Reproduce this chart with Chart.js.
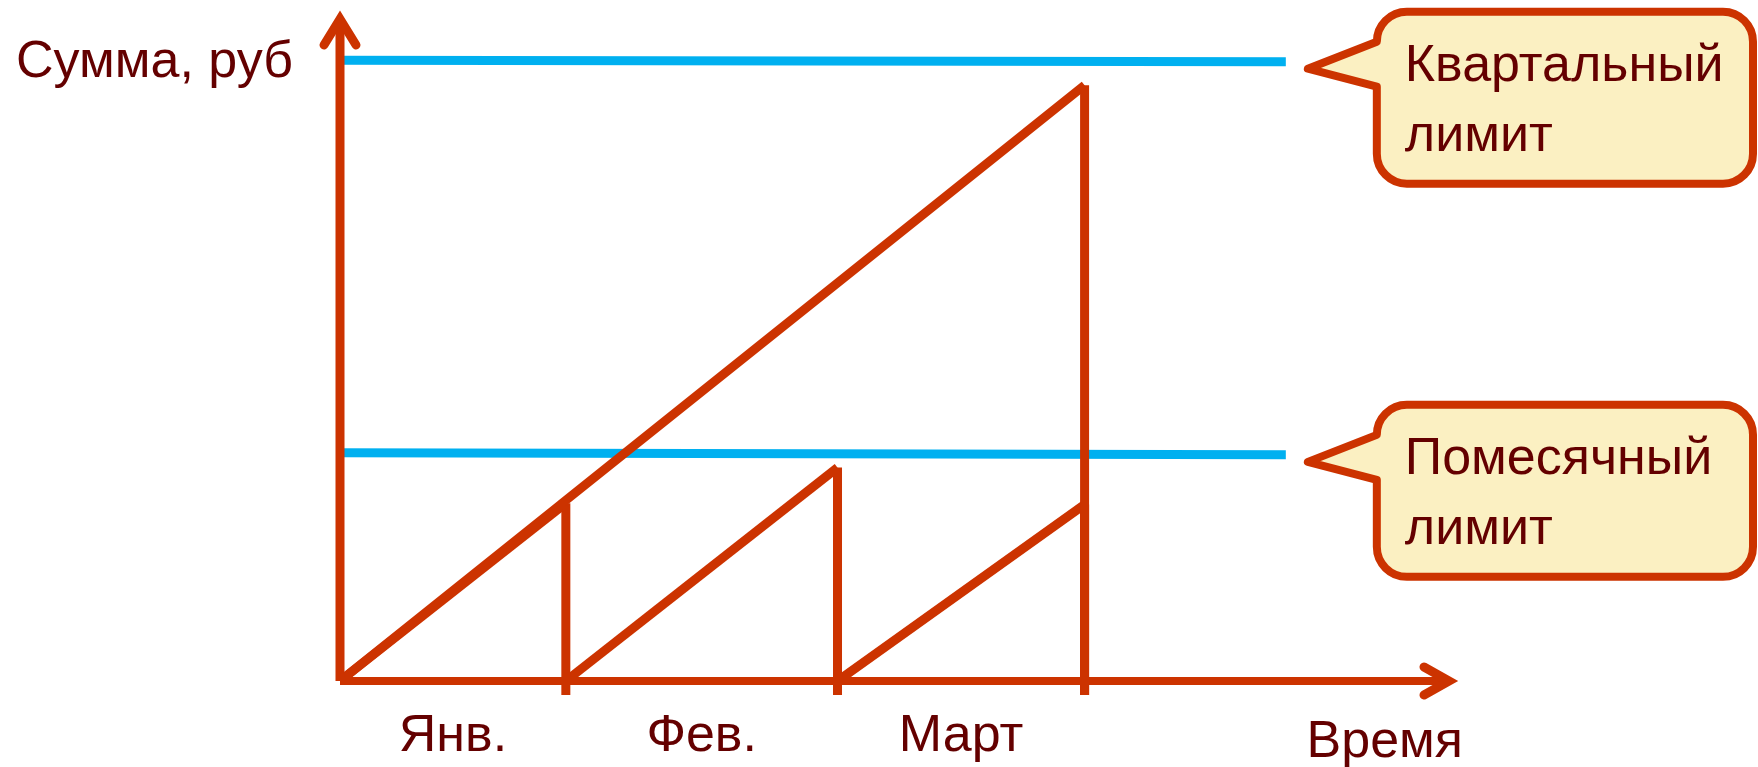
<!DOCTYPE html>
<html>
<head>
<meta charset="utf-8">
<script src="https://cdn.jsdelivr.net/npm/chart.js@4"></script>
<style>
    html, body { margin: 0; padding: 0; background: #fff; }
    canvas { display: block; }
</style>
</head>
<body>
<canvas id="chart" width="1758" height="767"></canvas>
<script>
// data (условные единицы, ось 0..100)
const monthLabels = ['Янв.', 'Фев.', 'Март'];
const monthBounds = [0, 20.2, 44.5, 66.6];   // начало янв., конец янв., фев., марта
const monthSums = [26.5, 31.8, 26.3];         // сумма на конец каждого месяца
const quarterSum = 88.8;                      // накопленная сумма на конец квартала
const quarterLimit = [92.5, 92.3];            // слева, справа
const monthLimit = [34.0, 33.7];
const limitEndX = 84.6;
const tickBottom = -2.1;
const calloutLabels = [['Квартальный', 'лимит'], ['Помесячный', 'лимит']];

const red = '#cc3300';
const blue = '#00b0f0';
const ink = '#640000';
const paper = '#fbf0c2';
const font = '52px "Liberation Sans", Arial, sans-serif';

function line(label, pts, color) {
    return {
        label: label,
        data: pts,
        borderColor: color,
        borderWidth: 9,
        pointRadius: 0,
        fill: false,
        tension: 0,
        clip: false
    };
}

var datasets = [];

// quarter total
datasets.push(line('Квартал', [{x: monthBounds[0], y: 0}, {x: monthBounds[3], y: quarterSum}], red));
datasets.push(line('Квартал', [{x: monthBounds[3], y: quarterSum}, {x: monthBounds[3], y: tickBottom}], red));

// each month
monthSums.forEach(function(v, i) {
    datasets.push(line(monthLabels[i], [{x: monthBounds[i], y: 0}, {x: monthBounds[i + 1], y: v}], red));
    datasets.push(line(monthLabels[i], [{x: monthBounds[i + 1], y: v}, {x: monthBounds[i + 1], y: tickBottom}], red));
});

// limits
datasets.push(line('Квартальный лимит', [{x: 0, y: quarterLimit[0]}, {x: limitEndX, y: quarterLimit[1]}], blue));
datasets.push(line('Помесячный лимит', [{x: 0, y: monthLimit[0]}, {x: limitEndX, y: monthLimit[1]}], blue));

// axes, labels and callouts
const sketch = {
    id: 'sketch',
    afterDatasetsDraw: function(chart) {
        var ctx = chart.ctx, a = chart.chartArea;
        var xs = chart.scales.x, ys = chart.scales.y;
        var x0 = xs.getPixelForValue(0), y0 = ys.getPixelForValue(0);
        ctx.save();

        ctx.strokeStyle = red;
        ctx.lineJoin = 'miter';
        ctx.lineCap = 'butt';
        ctx.lineWidth = 9;
        ctx.beginPath();
        ctx.moveTo(x0, y0);
        ctx.lineTo(x0, a.top + 10);
        ctx.stroke();
        ctx.lineWidth = 8;
        ctx.beginPath();
        ctx.moveTo(x0, y0);
        ctx.lineTo(a.right - 10, y0);
        ctx.stroke();

        ctx.lineWidth = 9;
        ctx.lineCap = 'round';
        ctx.beginPath();
        ctx.moveTo(x0 - 16, a.top + 35);
        ctx.lineTo(x0, a.top + 9);
        ctx.lineTo(x0 + 16, a.top + 35);
        ctx.stroke();
        ctx.beginPath();
        ctx.moveTo(a.right - 34, y0 - 14);
        ctx.lineTo(a.right - 9, y0);
        ctx.lineTo(a.right - 34, y0 + 14);
        ctx.stroke();

        ctx.fillStyle = ink;
        ctx.font = font;
        ctx.textBaseline = 'alphabetic';
        ctx.textAlign = 'right';
        ctx.fillText('Сумма, руб', x0 - 47, a.top + 67);
        ctx.fillText('Время', a.right + 5, y0 + 76);
        ctx.textAlign = 'center';
        monthLabels.forEach(function(m, i) {
            var mid = (xs.getPixelForValue(monthBounds[i]) + xs.getPixelForValue(monthBounds[i + 1])) / 2;
            ctx.fillText(m, mid, y0 + 70);
        });

        [quarterLimit, monthLimit].forEach(function(lim, k) {
            var tx = xs.getPixelForValue(limitEndX) + 22;
            var ty = ys.getPixelForValue(lim[1]) + 7;
            var bx = tx + 69, top = ty - 57, bottom = ty + 115, right = chart.width - 5, r = 30;
            ctx.beginPath();
            ctx.moveTo(tx, ty);
            ctx.lineTo(bx, top + r);
            ctx.arcTo(bx, top, bx + r, top, r);
            ctx.lineTo(right - r, top);
            ctx.arcTo(right, top, right, top + r, r);
            ctx.lineTo(right, bottom - r);
            ctx.arcTo(right, bottom, right - r, bottom, r);
            ctx.lineTo(bx + r, bottom);
            ctx.arcTo(bx, bottom, bx, bottom - r, r);
            ctx.lineTo(bx, ty + 18);
            ctx.closePath();
            ctx.fillStyle = paper;
            ctx.fill();
            ctx.lineWidth = 8;
            ctx.lineJoin = 'round';
            ctx.strokeStyle = red;
            ctx.stroke();

            ctx.fillStyle = ink;
            ctx.textAlign = 'left';
            ctx.fillText(calloutLabels[k][0], bx + 28, ty + 12);
            ctx.fillText(calloutLabels[k][1], bx + 28, ty + 82);
        });
        ctx.restore();
    }
};

var chart = new Chart(document.getElementById('chart'), {
    type: 'line',
    data: { datasets: datasets },
    options: {
        responsive: false,
        animation: false,
        layout: { padding: { left: 340, right: 300, top: 10, bottom: 86 } },
        plugins: {
            legend: { display: false },
            tooltip: { enabled: false }
        },
        scales: {
            x: { type: 'linear', min: 0, max: 100, display: false },
            y: { type: 'linear', min: 0, max: 100, display: false }
        }
    },
    plugins: [sketch]
});
</script>
</body>
</html>
